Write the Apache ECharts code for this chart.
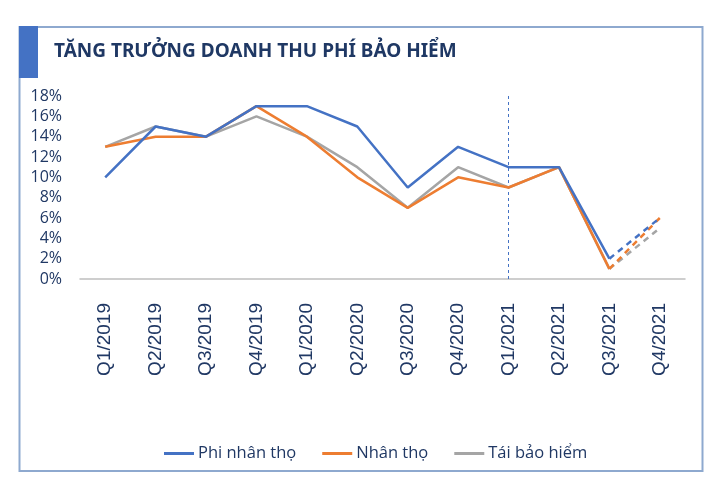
<!DOCTYPE html>
<html>
<head>
<meta charset="utf-8">
<script src="https://cdn.jsdelivr.net/npm/echarts@6/dist/echarts.min.js"></script>
<style>html,body{margin:0;padding:0;background:#fff}#c{width:711px;height:479px}</style>
</head>
<body>
<div id="c"></div>
<script>
var categories = ['Q1/2019','Q2/2019','Q3/2019','Q4/2019','Q1/2020','Q2/2020','Q3/2020','Q4/2020','Q1/2021','Q2/2021','Q3/2021','Q4/2021'];
var yTicks = [0, 2, 4, 6, 8, 10, 12, 14, 16, 18];
var phiNhanTho = [10, 15, 14, 17, 17, 15, 9, 13, 11, 11, 2, 6];
var nhanTho = [13, 14, 14, 17, 14, 10, 7, 10, 9, 11, 1, 6];
var taiBaoHiem = [13, 15, 14, 16, 14, 11, 7, 11, 9, 11, 1, 5];
var seriesNames = ['Phi nhân thọ', 'Nhân thọ', 'Tái bảo hiểm'];
var dividerCategory = 'Q1/2021';

var colors = ['#4472C4', '#ED7D31', '#A5A5A5'];
var textColor = '#203864';
var lastIdx = categories.length - 1;

function solidPart(arr) { return arr.map(function (v, i) { return i < lastIdx ? v : null; }); }
function dashedPart(arr) { return arr.map(function (v, i) { return i >= lastIdx - 1 ? v : null; }); }

var all = [phiNhanTho, nhanTho, taiBaoHiem];
var series = [];
all.forEach(function (arr, k) {
  var s = {
    name: seriesNames[k], type: 'line', data: solidPart(arr), symbol: 'none',
    lineStyle: { color: colors[k], width: 2.5 }, itemStyle: { color: colors[k] },
    z: 10 - k
  };
  if (k === 0) {
    s.markLine = {
      silent: true, symbol: 'none', label: { show: false },
      lineStyle: { color: '#4472C4', type: [3, 3], width: 1 },
      data: [{ xAxis: dividerCategory }]
    };
  }
  series.push(s);
});
all.forEach(function (arr, k) {
  series.push({
    name: seriesNames[k], type: 'line', data: dashedPart(arr), symbol: 'none',
    lineStyle: { color: colors[k], width: 2.5, type: [6, 5] }, itemStyle: { color: colors[k] },
    z: 10 - k
  });
});

var chart = echarts.init(document.getElementById('c'), null, { renderer: 'canvas' });
chart.setOption({
  animation: false,
  backgroundColor: '#ffffff',
  title: {
    text: 'TĂNG TRƯỞNG DOANH THU PHÍ BẢO HIỂM',
    left: 49, top: 37,
    textStyle: { color: '#1F3864', fontSize: 19, fontWeight: 'bold', fontFamily: 'Noto Sans' }
  },
  graphic: [
    { type: 'rect', shape: { x: 19.5, y: 27, width: 683, height: 444 }, style: { fill: 'none', stroke: '#8EA9CF', lineWidth: 2 }, z: 0 },
    { type: 'rect', shape: { x: 19, y: 26, width: 19, height: 52 }, style: { fill: '#4472C4' }, z: 1 }
  ],
  legend: {
    top: 440, left: 159, itemGap: 26, itemWidth: 30, itemHeight: 3,
    icon: 'rect',
    data: seriesNames,
    textStyle: { color: textColor, fontSize: 16.5, fontFamily: 'Open Sans', padding: [0, 0, 0, -1] }
  },
  grid: { left: 80, right: 26, top: 96, bottom: 200, containLabel: false },
  xAxis: {
    type: 'category', data: categories, boundaryGap: true,
    axisLine: { lineStyle: { color: '#BFBFBF', width: 1.5 } },
    axisTick: { show: false },
    axisLabel: { rotate: 90, margin: 24, color: textColor, fontSize: 19, fontFamily: 'Liberation Sans', interval: 0 }
  },
  yAxis: {
    type: 'value', min: yTicks[0], max: yTicks[yTicks.length - 1], interval: 2,
    axisLine: { show: false }, axisTick: { show: false }, splitLine: { show: false },
    axisLabel: { margin: 18, color: textColor, fontSize: 16, fontFamily: 'Open Sans', formatter: '{value}%' }
  },
  series: series
});
</script>
</body>
</html>
